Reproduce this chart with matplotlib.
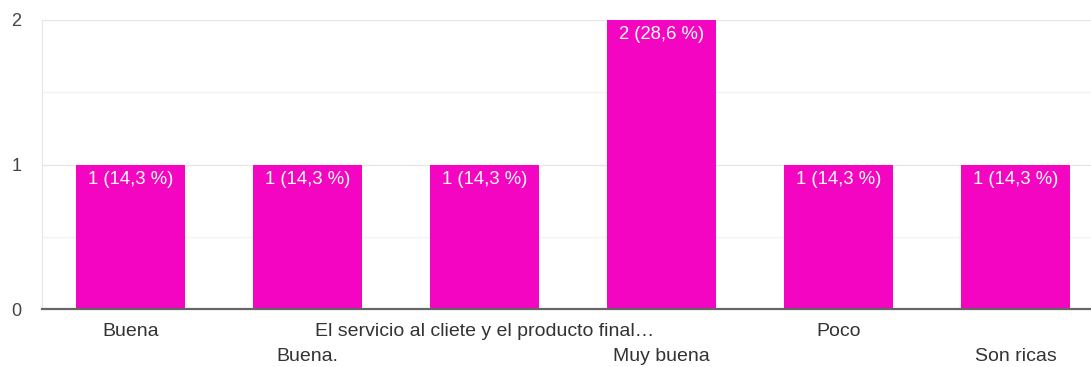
import matplotlib
matplotlib.use("Agg")
import matplotlib.pyplot as plt
from matplotlib.ticker import MultipleLocator

categories = ["Buena", "Buena.", "El servicio al cliete y el producto final…",
              "Muy buena", "Poco", "Son ricas"]
values = [1, 1, 1, 2, 1, 1]
percents = ["14,3", "14,3", "14,3", "28,6", "14,3", "14,3"]
bar_labels = [f"{v} ({p} %)" for v, p in zip(values, percents)]

plt.rcParams['font.family'] = ['Liberation Sans', 'DejaVu Sans']

W, H = 1091, 367
fig = plt.figure(figsize=(W / 100, H / 100), dpi=100)
left, right, top, bottom = 42, 1091, 20, 309
ax = fig.add_axes([left / W, 1 - bottom / H, (right - left) / W, (bottom - top) / H])

color = "#f305c1"
x = list(range(len(categories)))
bars = ax.bar(x, values, width=0.616, color=color, zorder=3)

for b, lab in zip(bars, bar_labels):
    ax.annotate(lab, (b.get_x() + b.get_width() / 2, b.get_height()),
                xytext=(0, -6), textcoords="offset pixels",
                ha="center", va="top", color="white", fontsize=13.3, zorder=4)

ax.set_xlim(-0.5, (right - left) / 177 - 0.5)
ax.set_ylim(0, 2)
ax.yaxis.set_major_locator(MultipleLocator(1))
ax.yaxis.set_minor_locator(MultipleLocator(0.5))
ax.grid(axis="y", which="major", color="#e6e6e6", linewidth=1, zorder=0)
ax.grid(axis="y", which="minor", color="#f3f3f3", linewidth=1, zorder=0)
ax.tick_params(axis="y", which="both", length=0, labelsize=13, labelcolor="#444444", pad=15)
ax.set_xticks(x)
ax.set_xticklabels([])
ax.tick_params(axis="x", length=0)

for i, cat in enumerate(categories):
    off = -14 if i % 2 == 0 else -39
    ax.annotate(cat, (i, 0), xytext=(0, off), textcoords="offset pixels",
                ha="center", va="top", fontsize=14, color="#333333",
                annotation_clip=False)

for s in ["top", "right"]:
    ax.spines[s].set_visible(False)
ax.spines["left"].set_color("#e6e6e6")
ax.spines["bottom"].set_color("#666666")
ax.spines["bottom"].set_linewidth(1.6)
ax.spines["bottom"].set_zorder(5)

fig.savefig("out.png", dpi=100)
